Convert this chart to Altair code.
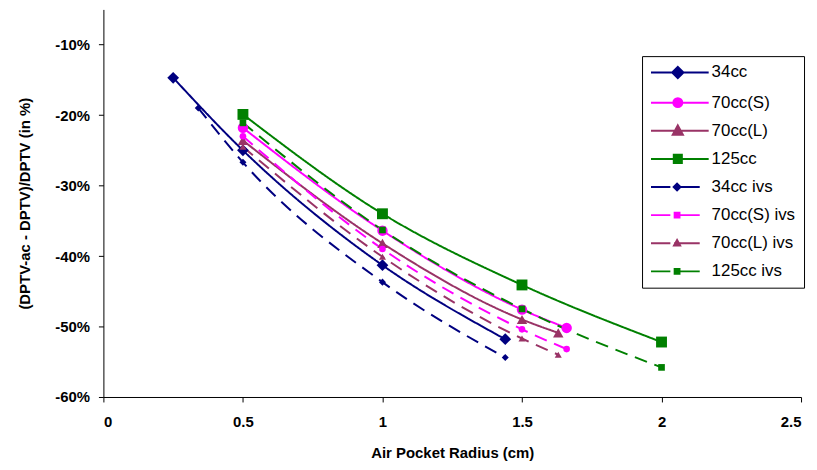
import altair as alt
import pandas as pd

series = ["34cc", "70cc(S)", "70cc(L)", "125cc",
          "34cc ivs", "70cc(S) ivs", "70cc(L) ivs", "125cc ivs"]
colors = ["#000080", "#FF00FF", "#993366", "#008000",
          "#000080", "#FF00FF", "#993366", "#008000"]

# radius (cm) and relative difference (%) per series
r_34 = [0.25, 0.5, 1.0, 1.44]
v_34 = [-14.7, -25.0, -41.3, -51.8]
r_70s = [0.5, 1.0, 1.5, 1.66]
v_70s = [-21.8, -36.4, -47.6, -50.2]
r_70l = [0.5, 1.0, 1.5, 1.63]
v_70l = [-23.6, -38.2, -49.0, -50.9]
r_125 = [0.5, 1.0, 1.5, 2.0]
v_125 = [-19.9, -34.0, -44.1, -52.2]
r_34i = [0.34, 0.5, 1.0, 1.44]
v_34i = [-19.0, -26.7, -43.7, -54.4]
r_70si = [0.5, 1.0, 1.5, 1.66]
v_70si = [-23.0, -39.0, -50.4, -53.2]
r_70li = [0.5, 1.0, 1.5, 1.63]
v_70li = [-24.5, -40.1, -51.7, -54.0]
r_125i = [0.5, 1.0, 1.5, 2.0]
v_125i = [-21.1, -36.3, -47.5, -55.8]

x_ticks = [0, 0.5, 1, 1.5, 2, 2.5]
y_ticks = [-60, -50, -40, -30, -20, -10]

radii = [r_34, r_70s, r_70l, r_125, r_34i, r_70si, r_70li, r_125i]
vals = [v_34, v_70s, v_70l, v_125, v_34i, v_70si, v_70li, v_125i]

rows = []
for name, rr, vv in zip(series, radii, vals):
    for r, v in zip(rr, vv):
        rows.append({"series": name, "radius": r, "value": v})
df = pd.DataFrame(rows)

dashes = [[1, 0]] * 4 + [[13, 8]] * 4
shapes = ["diamond", "circle", "triangle-up", "square"] * 2
sizes = [140, 110, 110, 120, 50, 45, 50, 45]


# ---- legend symbols: line + marker, drawn with strokes only ----
# coordinates written in "base" units, mapped to symbol units by T()
def T(x, y):
    return (1 + 2 * x, 2 * y)


def fmt_pt(cmd, x, y):
    a, b = T(x, y)
    return "%s%.3f,%.3f" % (cmd, a, b)


def poly(cx, pts, scales):
    out = ""
    for s in scales:
        p = [(cx + x * s, y * s) for x, y in pts]
        out += fmt_pt("M", *p[0]) + "".join(fmt_pt("L", *q) for q in p[1:]) + "Z"
    return out


def rings(cx, radii_):
    out = ""
    for r in radii_:
        r2 = 2 * r
        x0, _ = T(cx - r, 0)
        x1, _ = T(cx + r, 0)
        out += "M%.3f,0A%.3f,%.3f 0 1,1 %.3f,0A%.3f,%.3f 0 1,1 %.3f,0Z" % (
            x0, r2, r2, x1, r2, r2, x0)
    return out + fmt_pt("M", cx - 0.02, 0) + fmt_pt("L", cx + 0.02, 0)


def segs(pairs):
    return "".join(fmt_pt("M", a, 0) + fmt_pt("L", b, 0) for a, b in pairs)


DIAM = [(0, -0.38), (0.38, 0), (0, 0.38), (-0.38, 0)]
TRI = [(0, -0.36), (0.34, 0.26), (-0.34, 0.26)]
SQR = [(-0.27, -0.27), (0.27, -0.27), (0.27, 0.27), (-0.27, 0.27)]

solid_line = segs([(-1, 2.87)])
ivs_line = segs([(-1, 0.3), (0.55, 2.27)])
big = [1.0, 0.7, 0.4, 0.12]
small = [0.6, 0.3, 0.05]
legend_paths = [
    solid_line + poly(0.8, DIAM, big),
    solid_line + rings(0.8, [0.3, 0.18, 0.07]),
    solid_line + poly(0.8, TRI, big),
    solid_line + poly(0.8, SQR, big),
    ivs_line + poly(0.75, DIAM, small),
    ivs_line + poly(0.75, SQR, small),
    ivs_line + poly(0.75, TRI, small),
    ivs_line + poly(0.75, SQR, small),
]

FONT = "Liberation Sans"

x_enc = alt.X(
    "radius:Q",
    scale=alt.Scale(domain=[0, 2.5], nice=False, zero=False),
    axis=alt.Axis(values=x_ticks, format=".2~f", title="Air Pocket Radius (cm)",
                  labelPadding=13, titlePadding=16),
)
y_enc = alt.Y(
    "value:Q",
    scale=alt.Scale(domain=[-60, -5], nice=False, zero=False),
    axis=alt.Axis(values=y_ticks, labelExpr="datum.value + '%'",
                  title="(DPTV-ac - DPTV)/DPTV (in %)",
                  labelPadding=9, titlePadding=22),
)

layers = []
for name, col, dash in zip(series, colors, dashes):
    layers.append(
        alt.Chart(df).transform_filter(alt.datum.series == name).mark_line(
            strokeWidth=2, interpolate="monotone", color=col, strokeDash=dash
        ).encode(x=x_enc, y=y_enc)
    )
for name, col, shp, sz in zip(series, colors, shapes, sizes):
    layers.append(
        alt.Chart(df).transform_filter(alt.datum.series == name).mark_point(
            filled=True, opacity=1, shape=shp, size=sz, color=col
        ).encode(x=x_enc, y=y_enc)
    )

leg = alt.Legend(
    title=None, orient="none", legendX=542, legendY=47,
    symbolSize=225, symbolStrokeWidth=2, symbolOpacity=1,
    labelFont=FONT, labelFontSize=17, labelColor="black", labelOffset=45,
    rowPadding=10.3, padding=8, strokeColor="black", fillColor="white",
)

# invisible marks that carry the legend (legend symbols stay opaque)
legend_layer = alt.Chart(df).mark_point(filled=False, opacity=0, strokeWidth=2).encode(
    x=x_enc, y=y_enc,
    color=alt.Color("series:N", scale=alt.Scale(domain=series, range=colors), legend=leg),
    shape=alt.Shape("series:N", scale=alt.Scale(domain=series, range=legend_paths), legend=leg),
)
layers.append(legend_layer)

chart = alt.layer(*layers).properties(
    width=702, height=390,
    padding={"left": 96, "top": 0, "right": 8, "bottom": 66},
    autosize=alt.AutoSizeParams(type="none"),
).configure_view(stroke=None).configure_axis(
    grid=False, domainColor="black", tickColor="black", labelColor="black",
    titleColor="black", labelFont=FONT, titleFont=FONT, labelFontSize=15,
    labelFontWeight="bold", titleFontSize=15, titleFontWeight="bold", tickSize=5,
)

chart.save("out.html", embed_options={"renderer": "svg", "actions": False})
